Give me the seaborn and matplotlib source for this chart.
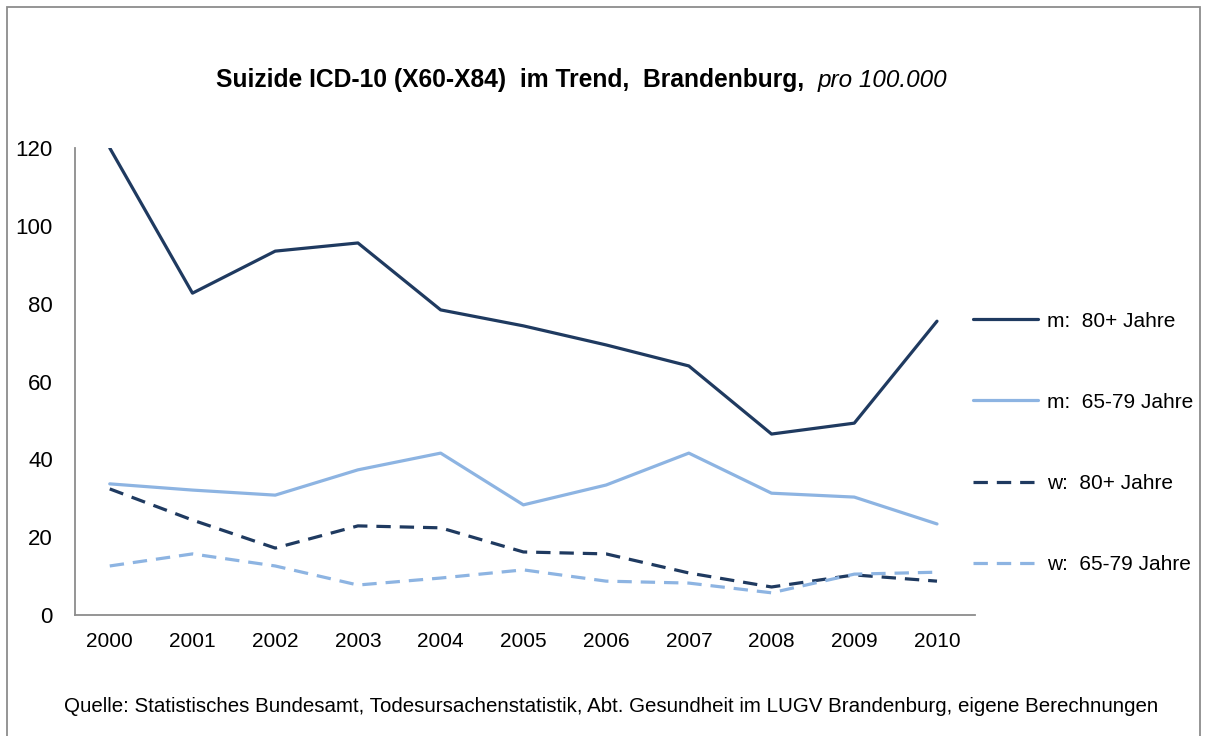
"""Suizide ICD-10 (X60-X84) im Trend, Brandenburg - Liniendiagramm."""

import pandas as pd
import seaborn as sns
import matplotlib.pyplot as plt
from matplotlib.lines import Line2D
from matplotlib.patches import Rectangle

jahre = [2000, 2001, 2002, 2003, 2004, 2005, 2006, 2007, 2008, 2009, 2010]
m_80 = [120.0, 82.7, 93.5, 95.6, 78.4, 74.3, 69.4, 64.0, 46.5, 49.3, 75.5]
m_65_79 = [33.7, 32.1, 30.8, 37.3, 41.6, 28.3, 33.4, 41.6, 31.3, 30.3, 23.4]
w_80 = [32.4, 24.4, 17.2, 22.9, 22.4, 16.2, 15.7, 10.8, 7.2, 10.3, 8.7]
w_65_79 = [12.6, 15.7, 12.6, 7.7, 9.5, 11.6, 8.7, 8.2, 5.7, 10.5, 11.0]
gruppen = ['m:  80+ Jahre', 'm:  65-79 Jahre', 'w:  80+ Jahre', 'w:  65-79 Jahre']

DUNKEL = '#1F3A60'
HELL = '#8DB4E2'


def daten_long():
    frames = []
    for name, werte in zip(gruppen, [m_80, m_65_79, w_80, w_65_79]):
        frames.append(pd.DataFrame({'jahr': range(len(jahre)), 'wert': werte, 'gruppe': name}))
    return pd.concat(frames, ignore_index=True)


def plot_suizide(df):
    sns.set_style('white')
    plt.rcParams['font.family'] = ['Liberation Sans', 'DejaVu Sans']
    plt.rcParams['text.color'] = 'black'

    fig = plt.figure(figsize=(12.06, 7.36), dpi=100)
    ax = fig.add_axes([0.0622, 0.1644, 0.7463, 0.6345])

    farben = {gruppen[0]: DUNKEL, gruppen[1]: HELL, gruppen[2]: DUNKEL, gruppen[3]: HELL}
    striche = {gruppen[0]: '', gruppen[1]: '', gruppen[2]: (4.5, 2.8), gruppen[3]: (4.5, 2.8)}
    sns.lineplot(data=df, x='jahr', y='wert', hue='gruppe', style='gruppe',
                 palette=farben, dashes=striche, linewidth=2.3, ax=ax, legend=False)

    ax.set_xlim(-0.42, 10.46)
    ax.set_ylim(0, 120)
    ax.set_yticks(range(0, 121, 20))
    ax.set_xticks(range(len(jahre)))
    ax.set_xticklabels([str(j) for j in jahre])
    ax.set_xlabel('')
    ax.set_ylabel('')
    ax.tick_params(axis='x', labelsize=15, length=0, colors='black', pad=12)
    ax.tick_params(axis='y', labelsize=16, length=0, colors='black', pad=16)
    for s in ['top', 'right']:
        ax.spines[s].set_visible(False)
    for s in ['left', 'bottom']:
        ax.spines[s].set_color('#8C8C8C')
        ax.spines[s].set_linewidth(1.3)

    handles = [
        Line2D([], [], color=DUNKEL, lw=2.3),
        Line2D([], [], color=HELL, lw=2.3),
        Line2D([], [], color=DUNKEL, lw=2.3, dashes=(4.5, 2.8)),
        Line2D([], [], color=HELL, lw=2.3, dashes=(4.5, 2.8)),
    ]
    fig.legend(handles, gruppen, loc='upper left', bbox_to_anchor=(0.791, 0.602),
               frameon=False, fontsize=15, handlelength=3.12, handletextpad=0.43,
               labelspacing=2.98, labelcolor='black')

    fig.text(216 / 1206, 1 - 80 / 736, 'Suizide ICD-10 (X60-X84)  im Trend,  Brandenburg,',
             fontsize=17.7, fontweight='bold', ha='left', va='center')
    fig.text(818 / 1206, 1 - 80 / 736, 'pro 100.000', fontsize=17.5, fontstyle='italic',
             ha='left', va='center')
    fig.text(611 / 1206, 1 - 706 / 736,
             'Quelle: Statistisches Bundesamt, Todesursachenstatistik, Abt. Gesundheit im '
             'LUGV Brandenburg, eigene Berechnungen',
             fontsize=14.8, ha='center', va='center')

    fig.patches.append(Rectangle((7 / 1206, -0.01), 1193 / 1206, 1 - 7 / 736 + 0.01,
                                 transform=fig.transFigure, fill=False,
                                 edgecolor='#8C8C8C', linewidth=1.3))

    fig.savefig('out.png', dpi=100)


if __name__ == '__main__':
    plot_suizide(daten_long())
